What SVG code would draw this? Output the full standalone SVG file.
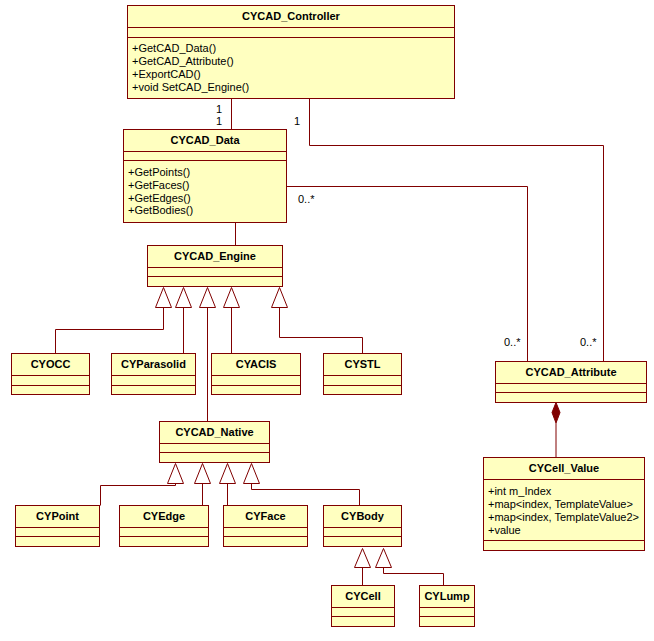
<svg xmlns="http://www.w3.org/2000/svg" width="654" height="641" viewBox="0 0 654 641">
<defs>
<style>
.box{fill:#ffffc0;stroke:#800000;stroke-width:1}
.sep{stroke:#800000;stroke-width:1;fill:none}
.ln{stroke:#800000;stroke-width:1;fill:none}
.tri{fill:#ffffff;stroke:#800000;stroke-width:1}
.t{font-family:"Liberation Sans",Arial,sans-serif;font-size:11px;font-weight:bold;fill:#000;text-anchor:middle}
.m{font-family:"Liberation Sans",Arial,sans-serif;font-size:11px;fill:#000}
</style>
</defs>
<rect width="654" height="641" fill="#ffffff"/>
<g id="connectors">
<polyline class="ln" points="231.5,98.5 231.5,129.5"/>
<polyline class="ln" points="309.5,98.5 309.5,145.5 603.5,145.5 603.5,361.5"/>
<polyline class="ln" points="286.5,186.5 527.5,186.5 527.5,361.5"/>
<polyline class="ln" points="235.5,222.5 235.5,245.5"/>
<polyline class="ln" points="163.5,307.5 163.5,329.5 55.5,329.5 55.5,353.5"/>
<polyline class="ln" points="183.5,307.5 183.5,353.5"/>
<polyline class="ln" points="207.5,307.5 207.5,421.5"/>
<polyline class="ln" points="231.5,307.5 231.5,353.5"/>
<polyline class="ln" points="279.5,307.5 279.5,337.5 362.5,337.5 362.5,353.5"/>
<polyline class="ln" points="175.5,483.5 175.5,485.5 100.5,485.5 100.5,505.5"/>
<polyline class="ln" points="202.5,483.5 202.5,505.5"/>
<polyline class="ln" points="227.5,483.5 227.5,505.5"/>
<polyline class="ln" points="251.5,483.5 251.5,489.5 359.5,489.5 359.5,505.5"/>
<polyline class="ln" points="362.5,567.5 362.5,585.5"/>
<polyline class="ln" points="383.5,567.5 383.5,573.5 443.5,573.5 443.5,585.5"/>
<polyline class="ln" points="556,423 556,457"/>
<polygon class="tri" points="163.5,287.5 155.5,307.5 171.5,307.5"/>
<polygon class="tri" points="183.5,287.5 175.5,307.5 191.5,307.5"/>
<polygon class="tri" points="207.5,287.5 199.5,307.5 215.5,307.5"/>
<polygon class="tri" points="231.5,287.5 223.5,307.5 239.5,307.5"/>
<polygon class="tri" points="279.5,287.5 271.5,307.5 287.5,307.5"/>
<polygon class="tri" points="175.5,463.5 167.5,483.5 183.5,483.5"/>
<polygon class="tri" points="202.5,463.5 194.5,483.5 210.5,483.5"/>
<polygon class="tri" points="227.5,463.5 219.5,483.5 235.5,483.5"/>
<polygon class="tri" points="251.5,463.5 243.5,483.5 259.5,483.5"/>
<polygon class="tri" points="362.5,548.5 354.5,567.5 370.5,567.5"/>
<polygon class="tri" points="383.5,548.5 375.5,567.5 391.5,567.5"/>
<polygon points="556,402.5 560,412.5 556,423 552,412.5" fill="#800000" stroke="#800000" stroke-width="1"/>
<text class="m" x="219" y="113" text-anchor="middle">1</text>
<text class="m" x="219" y="125" text-anchor="middle">1</text>
<text class="m" x="297" y="125" text-anchor="middle">1</text>
<text class="m" x="298" y="203">0..*</text>
<text class="m" x="504" y="346">0..*</text>
<text class="m" x="580" y="346">0..*</text>
</g>
<g id="CYCAD_Controller">
<rect class="box" x="127.5" y="5.5" width="327" height="93"/>
<line class="sep" x1="127.5" y1="27.5" x2="454.5" y2="27.5"/>
<line class="sep" x1="127.5" y1="37.5" x2="454.5" y2="37.5"/>
<text class="t" x="291" y="20">CYCAD_Controller</text>
<text class="m" x="132" y="52">+GetCAD_Data()</text>
<text class="m" x="132" y="65">+GetCAD_Attribute()</text>
<text class="m" x="132" y="78">+ExportCAD()</text>
<text class="m" x="132" y="91">+void SetCAD_Engine()</text>
</g>
<g id="CYCAD_Data">
<rect class="box" x="123.5" y="129.5" width="163" height="93"/>
<line class="sep" x1="123.5" y1="151.5" x2="286.5" y2="151.5"/>
<line class="sep" x1="123.5" y1="160.5" x2="286.5" y2="160.5"/>
<text class="t" x="205" y="144">CYCAD_Data</text>
<text class="m" x="128" y="175.5">+GetPoints()</text>
<text class="m" x="128" y="188.5">+GetFaces()</text>
<text class="m" x="128" y="201.5">+GetEdges()</text>
<text class="m" x="128" y="214">+GetBodies()</text>
</g>
<g id="CYCAD_Engine">
<rect class="box" x="147.5" y="245.5" width="135" height="41"/>
<line class="sep" x1="147.5" y1="267.5" x2="282.5" y2="267.5"/>
<line class="sep" x1="147.5" y1="276.5" x2="282.5" y2="276.5"/>
<text class="t" x="215" y="260">CYCAD_Engine</text>
</g>
<g id="CYOCC">
<rect class="box" x="11.5" y="353.5" width="78" height="41"/>
<line class="sep" x1="11.5" y1="375.5" x2="89.5" y2="375.5"/>
<line class="sep" x1="11.5" y1="385.5" x2="89.5" y2="385.5"/>
<text class="t" x="50.5" y="368">CYOCC</text>
</g>
<g id="CYParasolid">
<rect class="box" x="111.5" y="353.5" width="84" height="41"/>
<line class="sep" x1="111.5" y1="375.5" x2="195.5" y2="375.5"/>
<line class="sep" x1="111.5" y1="385.5" x2="195.5" y2="385.5"/>
<text class="t" x="153.5" y="368">CYParasolid</text>
</g>
<g id="CYACIS">
<rect class="box" x="211.5" y="353.5" width="89" height="41"/>
<line class="sep" x1="211.5" y1="375.5" x2="300.5" y2="375.5"/>
<line class="sep" x1="211.5" y1="385.5" x2="300.5" y2="385.5"/>
<text class="t" x="256" y="368">CYACIS</text>
</g>
<g id="CYSTL">
<rect class="box" x="323.5" y="353.5" width="78" height="41"/>
<line class="sep" x1="323.5" y1="375.5" x2="401.5" y2="375.5"/>
<line class="sep" x1="323.5" y1="385.5" x2="401.5" y2="385.5"/>
<text class="t" x="362.5" y="368">CYSTL</text>
</g>
<g id="CYCAD_Native">
<rect class="box" x="159.5" y="421.5" width="110" height="41"/>
<line class="sep" x1="159.5" y1="443.5" x2="269.5" y2="443.5"/>
<line class="sep" x1="159.5" y1="452.5" x2="269.5" y2="452.5"/>
<text class="t" x="214.5" y="436">CYCAD_Native</text>
</g>
<g id="CYPoint">
<rect class="box" x="15.5" y="505.5" width="84" height="41"/>
<line class="sep" x1="15.5" y1="527.5" x2="99.5" y2="527.5"/>
<line class="sep" x1="15.5" y1="536.5" x2="99.5" y2="536.5"/>
<text class="t" x="57.5" y="520">CYPoint</text>
</g>
<g id="CYEdge">
<rect class="box" x="119.5" y="505.5" width="89" height="41"/>
<line class="sep" x1="119.5" y1="527.5" x2="208.5" y2="527.5"/>
<line class="sep" x1="119.5" y1="536.5" x2="208.5" y2="536.5"/>
<text class="t" x="164" y="520">CYEdge</text>
</g>
<g id="CYFace">
<rect class="box" x="223.5" y="505.5" width="84" height="41"/>
<line class="sep" x1="223.5" y1="527.5" x2="307.5" y2="527.5"/>
<line class="sep" x1="223.5" y1="536.5" x2="307.5" y2="536.5"/>
<text class="t" x="265.5" y="520">CYFace</text>
</g>
<g id="CYBody">
<rect class="box" x="323.5" y="505.5" width="78" height="41"/>
<line class="sep" x1="323.5" y1="527.5" x2="401.5" y2="527.5"/>
<line class="sep" x1="323.5" y1="536.5" x2="401.5" y2="536.5"/>
<text class="t" x="362.5" y="520">CYBody</text>
</g>
<g id="CYCell">
<rect class="box" x="331.5" y="585.5" width="63" height="41"/>
<line class="sep" x1="331.5" y1="607.5" x2="394.5" y2="607.5"/>
<line class="sep" x1="331.5" y1="616.5" x2="394.5" y2="616.5"/>
<text class="t" x="363" y="600">CYCell</text>
</g>
<g id="CYLump">
<rect class="box" x="419.5" y="585.5" width="55" height="41"/>
<line class="sep" x1="419.5" y1="607.5" x2="474.5" y2="607.5"/>
<line class="sep" x1="419.5" y1="616.5" x2="474.5" y2="616.5"/>
<text class="t" x="447" y="600">CYLump</text>
</g>
<g id="CYCAD_Attribute">
<rect class="box" x="495.5" y="361.5" width="151" height="41"/>
<line class="sep" x1="495.5" y1="383.5" x2="646.5" y2="383.5"/>
<line class="sep" x1="495.5" y1="392.5" x2="646.5" y2="392.5"/>
<text class="t" x="571" y="376">CYCAD_Attribute</text>
</g>
<g id="CYCell_Value">
<rect class="box" x="483.5" y="457.5" width="161" height="93"/>
<line class="sep" x1="483.5" y1="479.5" x2="644.5" y2="479.5"/>
<line class="sep" x1="483.5" y1="540.5" x2="644.5" y2="540.5"/>
<text class="t" x="564" y="472">CYCell_Value</text>
<text class="m" x="488" y="494.5">+int m_Index</text>
<text class="m" x="488" y="507.5">+map&lt;index, TemplateValue&gt;</text>
<text class="m" x="488" y="520.5">+map&lt;index, TemplateValue2&gt;</text>
<text class="m" x="488" y="533.5">+value</text>
</g>
</svg>
